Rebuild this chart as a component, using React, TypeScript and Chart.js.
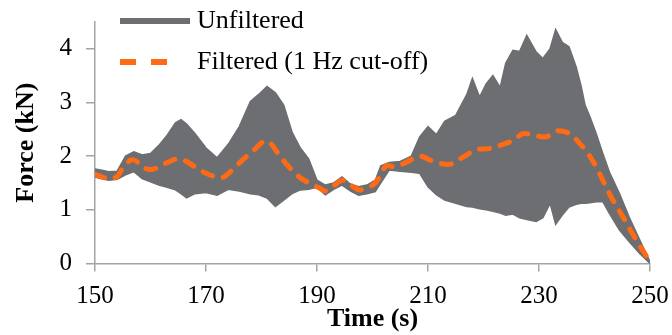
import React, { useEffect, useRef } from "react";
import { Chart, registerables } from "chart.js";

Chart.register(...registerables);

// ---- Data ----
const bandTime = [
  150, 151, 152.5, 154, 155.5, 157, 158.5, 160, 161.5, 163, 164.5, 165.5, 166.5, 168, 170, 172, 174, 176, 178, 179.5,
  181, 182.5, 184, 185.5, 187, 188.5, 190, 191.5, 193, 194.5, 196, 197.5, 199, 200.5, 201.5, 203, 205, 207, 208.5, 210,
  211.5, 213, 215, 217, 218, 219.3, 220.5, 221.7, 223, 224, 225.3, 226.5, 227.8, 229.5, 230.7, 232, 233, 234.2, 235.4,
  236.7, 237.6, 238.3, 239.2, 240.3, 241.5, 242.7, 244.5, 246.3, 248.1, 250,
];
const unfilteredUpper = [
  1.76, 1.74, 1.71, 1.72, 2.0, 2.08, 2.02, 2.05, 2.2, 2.39, 2.62, 2.68, 2.6, 2.42, 2.15, 1.97, 2.22, 2.55, 3.02, 3.15,
  3.3, 3.18, 2.95, 2.45, 2.15, 1.95, 1.55, 1.46, 1.5, 1.61, 1.48, 1.43, 1.46, 1.55, 1.82, 1.88, 1.9, 2.0, 2.36, 2.55,
  2.4, 2.65, 2.76, 3.15, 3.45, 3.1, 3.35, 3.5, 3.28, 3.73, 3.97, 3.95, 4.25, 3.94, 3.82, 4.0, 4.36, 4.12, 4.04,
  3.66, 3.3, 2.95, 2.73, 2.42, 2.05, 1.7, 1.3, 0.85, 0.45, 0.03,
];
const unfilteredLower = [
  1.61, 1.58, 1.55, 1.57, 1.65, 1.71, 1.58, 1.52, 1.46, 1.42, 1.37, 1.3, 1.22, 1.3, 1.32, 1.27, 1.38, 1.35, 1.3, 1.28,
  1.22, 1.06, 1.18, 1.3, 1.37, 1.38, 1.42, 1.28, 1.38, 1.46, 1.35, 1.27, 1.3, 1.34, 1.5, 1.74, 1.72, 1.7, 1.68, 1.43,
  1.28, 1.18, 1.12, 1.06, 1.05, 1.02, 1.0, 0.97, 0.94, 0.9, 0.92, 0.85, 0.82, 0.78, 0.85, 1.12, 0.73, 0.9, 1.05,
  1.1, 1.12, 1.12, 1.13, 1.15, 1.15, 0.93, 0.62, 0.4, 0.19, 0.0,
];

const filteredTime = [
  150, 151, 152.5, 154, 155, 156.5, 157.5, 158.5, 160, 161.5, 163, 165, 166.5, 168, 170, 171.5, 173, 174.5, 176.5, 178.5,
  180.5, 181.5, 183, 184.5, 185.7, 187.2, 189, 190.5, 191.5, 193, 194.7, 196.2, 197.7, 199.5, 200.5, 201.5, 202.5, 204,
  206, 208.5, 210.5, 212, 214, 216.3, 218.7, 221, 223.5, 225.5, 227.1, 228.9, 231.3, 233.1, 235.5, 237.3, 238.8, 240.3,
  241.5, 243, 245.1, 247.5, 249, 250,
];
const filteredForce = [
  1.66, 1.62, 1.58, 1.62, 1.78, 1.93, 1.9, 1.8, 1.75, 1.8, 1.88, 1.95, 1.9, 1.8, 1.68, 1.62, 1.6, 1.72, 1.92, 2.1,
  2.28, 2.25, 2.05, 1.85, 1.72, 1.58, 1.48, 1.4, 1.35, 1.45, 1.55, 1.45, 1.37, 1.43, 1.5, 1.65, 1.82, 1.8,
  1.88, 2.0, 1.92, 1.87, 1.85, 1.98, 2.12, 2.14, 2.22, 2.3, 2.42, 2.39, 2.36, 2.47, 2.42, 2.24, 2.05, 1.8,
  1.55, 1.24, 0.87, 0.44, 0.19, 0.03,
];

const xTicks = [150, 170, 190, 210, 230, 250];
const yTicks = [0, 1, 2, 3, 4];
const seriesNames = ["Unfiltered", "Filtered (1 Hz cut-off)"];
const xTitle = "Time (s)";
const yTitle = "Force (kN)";

// ---- Styles ----
const FONT = "'Liberation Serif', 'Times New Roman', serif";
const GRAY = "#6d6e71";
const ORANGE = "#ff6a14";
const AXIS = "#a3a3a3";

const legendPlugin = {
  id: "insideLegend",
  afterDraw(chart: any) {
    const { ctx, chartArea } = chart;
    const x0 = chartArea.left + 25;
    const x1 = chartArea.left + 95;
    const tx = chartArea.left + 102;
    const y1 = chartArea.top - 1;
    const y2 = chartArea.top + 40;
    ctx.save();
    ctx.strokeStyle = GRAY;
    ctx.lineWidth = 6;
    ctx.lineCap = "butt";
    ctx.setLineDash([]);
    ctx.beginPath();
    ctx.moveTo(x0, y1);
    ctx.lineTo(x1, y1);
    ctx.stroke();
    ctx.strokeStyle = ORANGE;
    ctx.setLineDash([16, 15]);
    ctx.beginPath();
    ctx.moveTo(x0, y2);
    ctx.lineTo(x0 + 47, y2);
    ctx.stroke();
    ctx.setLineDash([]);
    ctx.fillStyle = "#000";
    ctx.font = `26px ${FONT}`;
    ctx.textBaseline = "middle";
    ctx.textAlign = "left";
    ctx.fillText(seriesNames[0], tx, y1);
    ctx.fillText(seriesNames[1], tx, y2);
    ctx.restore();
  },
};

export default function App() {
  const ref = useRef<HTMLCanvasElement | null>(null);

  useEffect(() => {
    if (!ref.current) return;
    const upper = bandTime.map((t, i) => ({ x: t, y: unfilteredUpper[i] }));
    const lower = bandTime.map((t, i) => ({ x: t, y: unfilteredLower[i] }));
    const filt = filteredTime.map((t, i) => ({ x: t, y: filteredForce[i] }));

    const chart = new Chart(ref.current, {
      type: "line",
      data: {
        datasets: [
          {
            label: seriesNames[1],
            data: filt,
            borderColor: ORANGE,
            borderWidth: 5,
            borderDash: [10, 11],
            borderCapStyle: "round",
            pointRadius: 0,
            fill: false,
            tension: 0.35,
            order: 0,
          },
          {
            label: seriesNames[0],
            data: upper,
            borderColor: GRAY,
            backgroundColor: GRAY,
            borderWidth: 1.5,
            pointRadius: 0,
            fill: "+1",
            tension: 0,
            order: 1,
          },
          {
            label: seriesNames[0] + " (lower)",
            data: lower,
            borderColor: GRAY,
            backgroundColor: GRAY,
            borderWidth: 1.5,
            pointRadius: 0,
            fill: false,
            tension: 0,
            order: 2,
          },
        ],
      } as any,
      options: {
        responsive: false,
        maintainAspectRatio: false,
        animation: false,
        events: [],
        layout: { padding: { left: 13, right: 22, top: 22, bottom: 3 } },
        plugins: { legend: { display: false }, tooltip: { enabled: false } },
        scales: {
          x: {
            type: "linear",
            min: 150,
            max: 250,
            afterBuildTicks: (s: any) => {
              s.ticks = xTicks.map((v) => ({ value: v }));
            },
            afterFit: (s: any) => {
              s.height = 68.6;
              s.paddingLeft = 0;
              s.paddingRight = 0;
            },
            grid: { drawOnChartArea: false, drawTicks: true, tickLength: 8, color: AXIS, lineWidth: 1.5 },
            border: { color: AXIS, width: 1.5 },
            ticks: { font: { family: FONT, size: 25 }, color: "#000", padding: 10, maxRotation: 0, autoSkip: false },
            title: {
              display: true,
              text: xTitle,
              color: "#000",
              padding: 0,
              font: { family: FONT, size: 26, weight: "bold", lineHeight: 1 },
            },
          },
          y: {
            type: "linear",
            min: 0,
            max: 4.5,
            afterBuildTicks: (s: any) => {
              s.ticks = yTicks.map((v) => ({ value: v }));
            },
            afterFit: (s: any) => {
              s.width = 82;
              s.paddingTop = 0;
              s.paddingBottom = 0;
            },
            grid: { drawOnChartArea: false, drawTicks: true, tickLength: 9, color: AXIS, lineWidth: 1.5 },
            border: { color: AXIS, width: 1.5 },
            ticks: { font: { family: FONT, size: 25 }, color: "#000", padding: 14, autoSkip: false },
            title: {
              display: true,
              text: yTitle,
              color: "#000",
              padding: 0,
              font: { family: FONT, size: 26, weight: "bold", lineHeight: 1 },
            },
          },
        },
      } as any,
      plugins: [legendPlugin],
    });
    return () => chart.destroy();
  }, []);

  return (
    <div style={{ position: "fixed", left: 0, top: 0, width: 672, height: 335, background: "#fff" }}>
      <canvas ref={ref} width={672} height={335} style={{ display: "block", width: 672, height: 335 }} />
    </div>
  );
}
